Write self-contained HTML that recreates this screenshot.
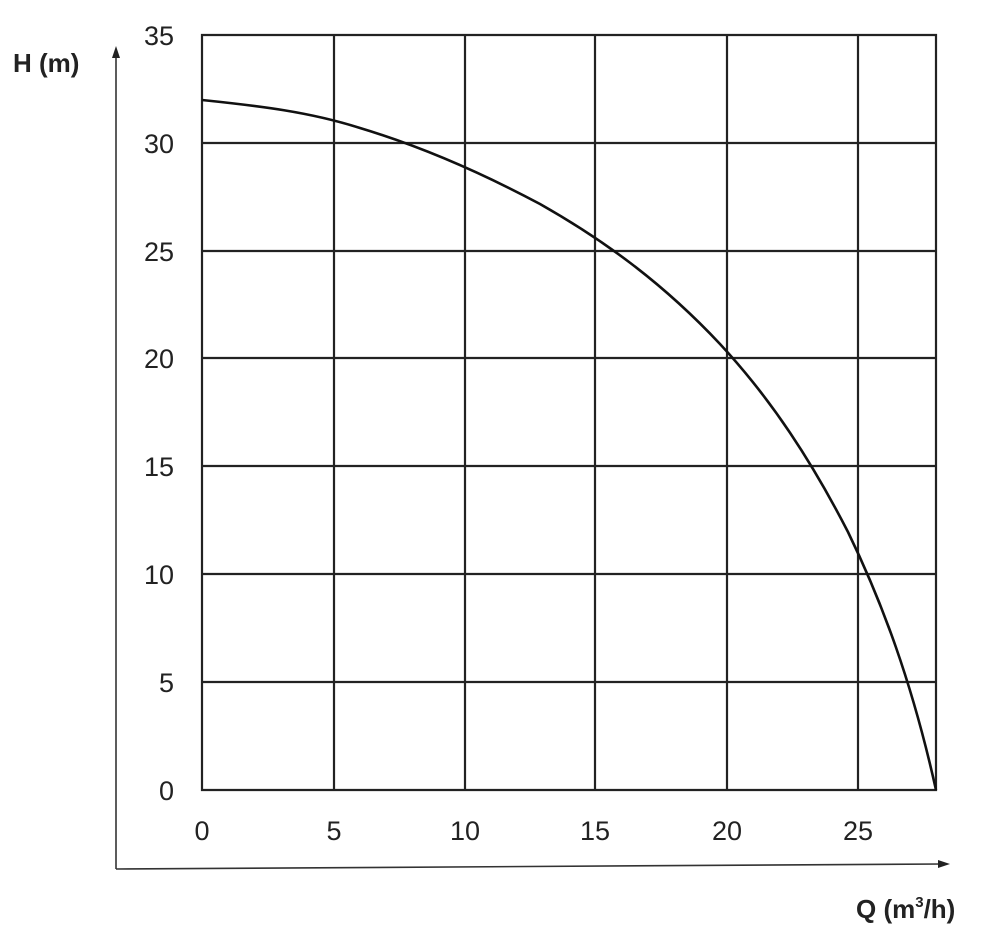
<!DOCTYPE html>
<html><head><style>body{margin:0;background:#fff}svg{display:block}text{font-family:"Liberation Sans",sans-serif;fill:#222}</style></head>
<body>
<svg width="1000" height="940" viewBox="0 0 1000 940">
<g stroke="#222" stroke-width="2.2" fill="none">
<path d="M202,35H936V790H202Z"/>
<path d="M334,35V790M465,35V790M595,35V790M727,35V790M858,35V790"/>
<path d="M202,143H936M202,251H936M202,358H936M202,466H936M202,574H936M202,682H936"/>
</g>
<path d="M202,100 C260,106 310,112 360,128 C420,146 480,172 540,204 C600,238 660,280 720,344 C772,400 812,462 848,532 C882,602 912,682 936,790" stroke="#111" stroke-width="2.6" fill="none"/>
<g stroke="#333" stroke-width="1.6" fill="none">
<path d="M116,869V55"/>
<path d="M116,869L942,864"/>
</g>
<path d="M116,46L112,58H120Z" fill="#222"/>
<path d="M950,864L938,860V868Z" fill="#222"/>
<g font-size="27" text-anchor="end">
<text x="174" y="45">35</text><text x="174" y="153">30</text><text x="174" y="261">25</text><text x="174" y="368">20</text><text x="174" y="476">15</text><text x="174" y="584">10</text><text x="174" y="692">5</text><text x="174" y="800">0</text>
</g>
<g font-size="27" text-anchor="middle">
<text x="202" y="840">0</text><text x="334" y="840">5</text><text x="465" y="840">10</text><text x="595" y="840">15</text><text x="727" y="840">20</text><text x="858" y="840">25</text>
</g>
<text x="13" y="72" font-size="26" font-weight="bold">H (m)</text>
<text x="856" y="918" font-size="26" font-weight="bold">Q (m<tspan font-size="15" dy="-11">3</tspan><tspan dy="11">/h)</tspan></text>
</svg>
</body></html>
